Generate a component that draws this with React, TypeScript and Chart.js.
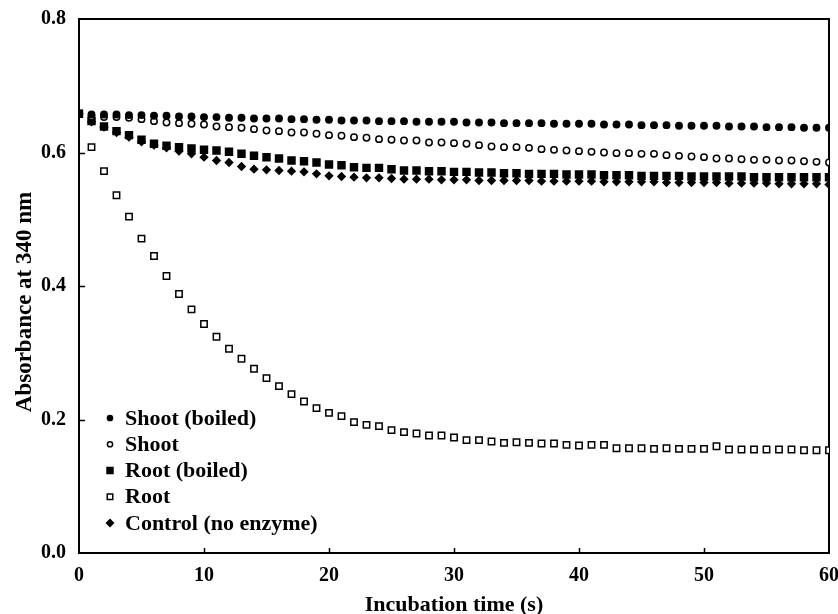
import React, { useEffect, useRef } from 'react';
import { Chart, registerables } from 'chart.js';

Chart.register(...registerables);

const times = [0, 1, 2, 3, 4, 5, 6, 7, 8, 9, 10, 11, 12, 13, 14, 15, 16, 17, 18, 19, 20, 21, 22, 23, 24, 25, 26, 27, 28, 29, 30, 31, 32, 33, 34, 35, 36, 37, 38, 39, 40, 41, 42, 43, 44, 45, 46, 47, 48, 49, 50, 51, 52, 53, 54, 55, 56, 57, 58, 59, 60];

const shootBoiled = [0.658, 0.657, 0.657, 0.657, 0.656, 0.656, 0.655, 0.655, 0.654, 0.654, 0.653, 0.653, 0.652, 0.652, 0.651, 0.651, 0.651, 0.650, 0.650, 0.649, 0.649, 0.648, 0.648, 0.648, 0.647, 0.647, 0.647, 0.646, 0.646, 0.646, 0.646, 0.645, 0.645, 0.645, 0.644, 0.644, 0.644, 0.644, 0.643, 0.643, 0.643, 0.643, 0.642, 0.642, 0.642, 0.641, 0.641, 0.641, 0.640, 0.640, 0.640, 0.640, 0.639, 0.639, 0.639, 0.638, 0.638, 0.638, 0.637, 0.637, 0.637];

const shoot = [0.658, 0.654, 0.653, 0.653, 0.652, 0.650, 0.647, 0.645, 0.644, 0.643, 0.642, 0.639, 0.638, 0.637, 0.635, 0.633, 0.632, 0.630, 0.630, 0.628, 0.626, 0.625, 0.623, 0.622, 0.620, 0.619, 0.618, 0.618, 0.615, 0.615, 0.614, 0.613, 0.611, 0.609, 0.608, 0.608, 0.607, 0.605, 0.604, 0.603, 0.602, 0.601, 0.600, 0.599, 0.599, 0.598, 0.598, 0.596, 0.595, 0.594, 0.593, 0.591, 0.591, 0.590, 0.589, 0.589, 0.588, 0.588, 0.587, 0.586, 0.585];

const rootBoiled = [0.658, 0.647, 0.639, 0.632, 0.626, 0.619, 0.613, 0.610, 0.608, 0.606, 0.604, 0.603, 0.601, 0.598, 0.595, 0.593, 0.591, 0.588, 0.587, 0.585, 0.582, 0.581, 0.578, 0.577, 0.577, 0.575, 0.573, 0.573, 0.572, 0.572, 0.571, 0.571, 0.570, 0.570, 0.569, 0.569, 0.568, 0.568, 0.568, 0.567, 0.567, 0.567, 0.566, 0.566, 0.566, 0.565, 0.565, 0.565, 0.565, 0.564, 0.564, 0.564, 0.564, 0.564, 0.563, 0.563, 0.563, 0.563, 0.563, 0.563, 0.563];

const root = [0.658, 0.608, 0.572, 0.536, 0.504, 0.471, 0.445, 0.415, 0.388, 0.365, 0.343, 0.324, 0.306, 0.291, 0.276, 0.262, 0.250, 0.238, 0.227, 0.217, 0.210, 0.205, 0.196, 0.192, 0.190, 0.184, 0.181, 0.179, 0.176, 0.176, 0.173, 0.169, 0.169, 0.167, 0.165, 0.166, 0.165, 0.164, 0.164, 0.162, 0.161, 0.162, 0.162, 0.157, 0.157, 0.157, 0.156, 0.157, 0.156, 0.156, 0.156, 0.160, 0.155, 0.155, 0.155, 0.155, 0.155, 0.155, 0.154, 0.154, 0.154];

const control = [0.658, 0.646, 0.638, 0.630, 0.623, 0.616, 0.611, 0.607, 0.602, 0.598, 0.593, 0.588, 0.585, 0.579, 0.575, 0.574, 0.573, 0.572, 0.571, 0.568, 0.565, 0.564, 0.563, 0.562, 0.562, 0.561, 0.560, 0.560, 0.560, 0.559, 0.559, 0.559, 0.558, 0.558, 0.558, 0.558, 0.558, 0.557, 0.557, 0.557, 0.557, 0.557, 0.556, 0.556, 0.556, 0.556, 0.556, 0.555, 0.555, 0.555, 0.555, 0.555, 0.554, 0.554, 0.554, 0.554, 0.553, 0.553, 0.553, 0.553, 0.552];

const seriesLabels = ['Shoot (boiled)', 'Shoot', 'Root (boiled)', 'Root', 'Control (no enzyme)'];
const seriesValues = [shootBoiled, shoot, rootBoiled, root, control];
const xTickValues = [0, 10, 20, 30, 40, 50, 60];
const yTickValues = [0, 0.2, 0.4, 0.6, 0.8];
const xTitle = 'Incubation time (s)';
const yTitle = 'Absorbance at 340 nm';

const FONT = "'Liberation Serif', 'Times New Roman', serif";

type Style = { shape: string; filled: boolean; radius: number; legendRadius: number };
const seriesStyles: Style[] = [
  { shape: 'circle', filled: true, radius: 3.2, legendRadius: 2.6 },
  { shape: 'circle', filled: false, radius: 3.2, legendRadius: 2.6 },
  { shape: 'rect', filled: true, radius: 4.9, legendRadius: 4.2 },
  { shape: 'rect', filled: false, radius: 4.5, legendRadius: 3.9 },
  { shape: 'rectRot', filled: true, radius: 3.6, legendRadius: 3.4 },
];

function drawMarker(ctx: CanvasRenderingContext2D, shape: string, filled: boolean, r: number, x: number, y: number) {
  ctx.beginPath();
  if (shape === 'circle') {
    ctx.arc(x, y, r, 0, Math.PI * 2);
  } else if (shape === 'rect') {
    const s = Math.SQRT1_2 * r;
    ctx.rect(x - s, y - s, 2 * s, 2 * s);
  } else {
    ctx.moveTo(x, y - r);
    ctx.lineTo(x + r, y);
    ctx.lineTo(x, y + r);
    ctx.lineTo(x - r, y);
    ctx.closePath();
  }
  ctx.fillStyle = filled ? '#000' : '#fff';
  ctx.fill();
  ctx.lineWidth = 1.5;
  ctx.strokeStyle = '#000';
  ctx.stroke();
}

const framePlugin = {
  id: 'frameTicks',
  beforeDatasetsDraw(chart: any) {
    const { ctx, chartArea, scales } = chart;
    ctx.save();
    ctx.strokeStyle = '#000';
    ctx.lineWidth = 2;
    ctx.strokeRect(chartArea.left, chartArea.top, chartArea.right - chartArea.left, chartArea.bottom - chartArea.top);
    ctx.lineWidth = 1.5;
    ctx.beginPath();
    yTickValues.forEach((v) => {
      if (v === 0 || v === 0.8) return;
      const y = Math.round(scales.y.getPixelForValue(v)) + 0.5;
      ctx.moveTo(chartArea.left, y);
      ctx.lineTo(chartArea.left + 6, y);
    });
    xTickValues.forEach((v) => {
      if (v === 0 || v === 60) return;
      const x = Math.round(scales.x.getPixelForValue(v)) + 0.5;
      ctx.moveTo(x, chartArea.bottom);
      ctx.lineTo(x, chartArea.bottom - 5);
    });
    ctx.stroke();
    // y axis title
    ctx.save();
    ctx.translate(25, chartArea.top + 283);
    ctx.rotate(-Math.PI / 2);
    ctx.fillStyle = '#000';
    ctx.font = `bold 23px ${FONT}`;
    ctx.textAlign = 'center';
    ctx.textBaseline = 'middle';
    ctx.fillText(yTitle, 0, 0);
    ctx.restore();
    ctx.restore();
  },
};

const legendPlugin = {
  id: 'innerLegend',
  afterDatasetsDraw(chart: any) {
    const { ctx, chartArea } = chart;
    const mx = chartArea.left + 31;
    const tx = chartArea.left + 46;
    const y0 = chartArea.bottom - 135;
    const step = 26.25;
    ctx.save();
    chart.data.datasets.forEach((ds: any, i: number) => {
      const st = seriesStyles[i];
      const y = y0 + i * step;
      drawMarker(ctx, st.shape, st.filled, st.legendRadius, mx, y);
      ctx.fillStyle = '#000';
      ctx.font = `bold 22px ${FONT}`;
      ctx.textBaseline = 'middle';
      ctx.textAlign = 'left';
      ctx.fillText(ds.label, tx, y + 1);
    });
    ctx.restore();
  },
};

export default function App() {
  const ref = useRef<HTMLCanvasElement | null>(null);
  useEffect(() => {
    document.body.style.margin = '0';
    if (!ref.current) return;
    const datasets = seriesLabels.map((label, i) => {
      const st = seriesStyles[i];
      return {
        label,
        data: times.map((t, j) => ({ x: t, y: seriesValues[i][j] })),
        showLine: false,
        pointStyle: st.shape,
        pointRadius: st.radius,
        pointHoverRadius: st.radius,
        pointBackgroundColor: st.filled ? '#000' : '#fff',
        pointBorderColor: '#000',
        pointBorderWidth: 1.5,
      };
    });
    const chart = new Chart(ref.current, {
      type: 'scatter',
      data: { datasets },
      options: {
        animation: false,
        responsive: false,
        layout: { padding: { top: 19, right: 9, left: 0, bottom: 0 } },
        plugins: { legend: { display: false }, tooltip: { enabled: false } },
        scales: {
          x: {
            type: 'linear',
            min: 0,
            max: 60,
            afterBuildTicks: (scale: any) => {
              scale.ticks = xTickValues.map((v) => ({ value: v }));
            },
            afterFit: (scale: any) => {
              scale.height = 61;
              scale.paddingLeft = 0;
              scale.paddingRight = 0;
            },
            grid: { display: false, drawTicks: false },
            border: { display: false },
            ticks: {
              padding: 11,
              color: '#000',
              font: { family: FONT, size: 20, weight: 'bold' },
              maxRotation: 0,
              autoSkip: false,
            },
            title: {
              display: true,
              text: xTitle,
              color: '#000',
              font: { family: FONT, size: 22, weight: 'bold' },
              padding: { top: 0, bottom: -5 },
            },
          },
          y: {
            type: 'linear',
            min: 0,
            max: 0.8,
            afterBuildTicks: (scale: any) => {
              scale.ticks = yTickValues.map((v) => ({ value: v }));
            },
            afterFit: (scale: any) => {
              scale.width = 79;
              scale.paddingTop = 0;
              scale.paddingBottom = 0;
            },
            grid: { display: false, drawTicks: false },
            border: { display: false },
            ticks: {
              padding: 13,
              color: '#000',
              font: { family: FONT, size: 20, weight: 'bold' },
              callback: (v: any) => Number(v).toFixed(1),
            },
            title: { display: false },
          },
        },
      },
      plugins: [framePlugin, legendPlugin],
    });
    return () => chart.destroy();
  }, []);
  return <canvas ref={ref} width={838} height={614} style={{ display: 'block' }} />;
}
